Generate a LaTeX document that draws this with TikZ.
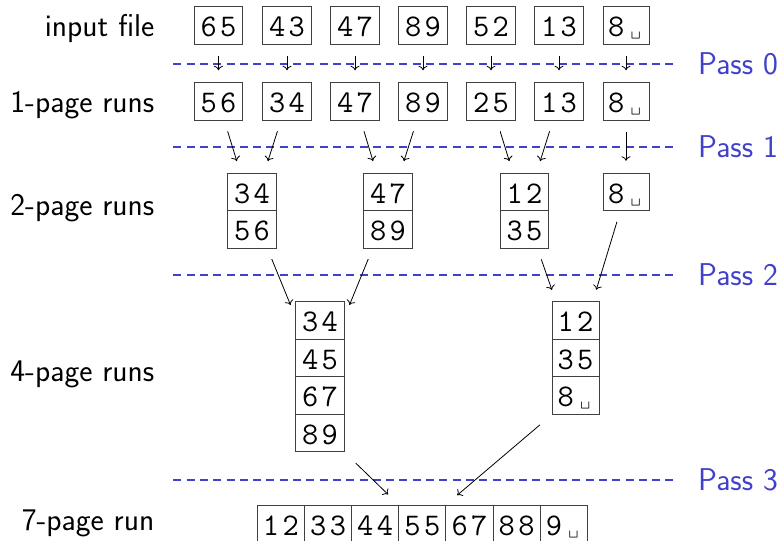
\documentclass[tikz,border=0pt]{standalone}
\usetikzlibrary{fit,calc,arrows.meta}
\definecolor{passblue}{RGB}{64,64,200}
\newcommand\dd[2]{\makebox[19.7pt]{#1}\makebox[19.7pt]{#2}}
\newcommand\vsp{{\fontsize{19}{19}\selectfont\textvisiblespace}}
\begin{document}
\begin{tikzpicture}[x=1pt,y=-1pt,
  cell/.style={draw=black!75, line width=1pt, minimum width=48.5pt, minimum height=37.5pt,
    inner sep=0pt, text height=22pt, text depth=0pt,
    font=\fontsize{31.5}{31.5}\selectfont\ttfamily},
  ncell/.style={cell, minimum width=47.15pt},
  lab/.style={anchor=base east, inner sep=0pt, font=\fontsize{31.5}{31.5}\selectfont\sffamily},
  passlab/.style={anchor=west, inner sep=0pt, text=passblue, font=\fontsize{31.5}{31.5}\selectfont\sffamily},
  passline/.style={draw=passblue, line width=1.2pt, dash pattern=on 8pt off 5.3pt},
  arr/.style={-{To[length=4.5pt,width=9pt]}, line width=0.8pt, shorten <=11pt, shorten >=12pt},
  arrlong/.style={-{To[length=4.5pt,width=9pt]}, line width=0.8pt, shorten <=15pt, shorten >=15.5pt},
  grp/.style={inner sep=0pt, draw=none}
]
\useasboundingbox (0,0) rectangle (780,541);

% row labels
\node[lab] (l0) at (154.5,36.7) {input file};
\node[lab] (l1) at (154.5,112.5) {1-page runs};
\node[lab] (l2) at (154.5,215) {2-page runs};
\node[lab] (l3) at (154.5,381) {4-page runs};
\node[lab] (l4) at (154.5,530) {7-page run};

% pass lines
\foreach \n/\y in {0/64,1/147,2/275,3/480}{
  \coordinate (ps\n) at (173.3,\y);
  \coordinate (pe\n) at (678,\y);
  \draw[passline] (ps\n) -- (pe\n);
  \node[passlab] (pl\n) at (698,\y) {Pass \n};
}

% input file
\node[cell] (a1) at (218.5,25.7) {\dd{6}{5}};
\node[cell] (a2) at (287,25.7) {\dd{4}{3}};
\node[cell] (a3) at (355,25.7) {\dd{4}{7}};
\node[cell] (a4) at (423,25.7) {\dd{8}{9}};
\node[cell] (a5) at (491,25.7) {\dd{5}{2}};
\node[cell] (a6) at (559,25.7) {\dd{1}{3}};
\node[cell, minimum width=46pt] (a7) at (626,25.7) {\dd{8}{\vsp}};

% 1-page runs
\node[cell] (b1) at (218.5,101.5) {\dd{5}{6}};
\node[cell] (b2) at (287,101.5) {\dd{3}{4}};
\node[cell] (b3) at (355,101.5) {\dd{4}{7}};
\node[cell] (b4) at (423,101.5) {\dd{8}{9}};
\node[cell] (b5) at (491,101.5) {\dd{2}{5}};
\node[cell] (b6) at (559,101.5) {\dd{1}{3}};
\node[cell, minimum width=46pt] (b7) at (626,101.5) {\dd{8}{\vsp}};

% 2-page runs
\node[cell] (c1) at (252,192) {\dd{3}{4}};
\node[cell] (c2) at (252,229.5) {\dd{5}{6}};
\node[cell] (c3) at (388,192) {\dd{4}{7}};
\node[cell] (c4) at (388,229.5) {\dd{8}{9}};
\node[cell] (c5) at (524.5,192) {\dd{1}{2}};
\node[cell] (c6) at (524.5,229.5) {\dd{3}{5}};
\node[cell, minimum width=46pt] (c7) at (626,192) {\dd{8}{\vsp}};
\node[grp, fit=(c1)(c2)] (gA) {};
\node[grp, fit=(c3)(c4)] (gB) {};
\node[grp, fit=(c5)(c6)] (gC) {};

% 4-page runs
\node[cell] (d1) at (320,320.7) {\dd{3}{4}};
\node[cell] (d2) at (320,358.2) {\dd{4}{5}};
\node[cell] (d3) at (320,395.7) {\dd{6}{7}};
\node[cell] (d4) at (320,433.2) {\dd{8}{9}};
\node[cell, minimum width=47pt] (e1) at (575.5,320.7) {\dd{1}{2}};
\node[cell, minimum width=47pt] (e2) at (575.5,358.2) {\dd{3}{5}};
\node[cell, minimum width=47pt] (e3) at (575.5,395.7) {\dd{8}{\vsp}};
\node[grp, fit=(d1)(d4)] (gL) {};
\node[grp, fit=(e1)(e3)] (gR) {};

% 7-page run
\node[ncell] (f1) at (280.88,524.5) {\dd{1}{2}};
\node[ncell] (f2) at (328.03,524.5) {\dd{3}{3}};
\node[ncell] (f3) at (375.18,524.5) {\dd{4}{4}};
\node[ncell] (f4) at (422.33,524.5) {\dd{5}{5}};
\node[ncell] (f5) at (469.48,524.5) {\dd{6}{7}};
\node[ncell] (f6) at (516.63,524.5) {\dd{8}{8}};
\node[ncell] (f7) at (563.78,524.5) {\dd{9}{\vsp}};

% pass 0
\foreach \i in {1,...,7}{ \draw[arr] (a\i) -- (b\i); }
% pass 1
\draw[arr] (b1) -- (gA);
\draw[arr] (b2) -- (gA);
\draw[arr] (b3) -- (gB);
\draw[arr] (b4) -- (gB);
\draw[arr] (b5) -- (gC);
\draw[arr] (b6) -- (gC);
\draw[arr] (b7) -- (c7);
% pass 2
\draw[arr] (gA) -- (gL);
\draw[arr] (gB) -- (gL);
\draw[arr] (gC) -- (gR);
\draw[arr] (c7) -- (gR);
% pass 3
\draw[arrlong] (gL.south east) -- (f3.north east);
\draw[arrlong] (gR.south west) -- (f5.north west);
\end{tikzpicture}
\end{document}
